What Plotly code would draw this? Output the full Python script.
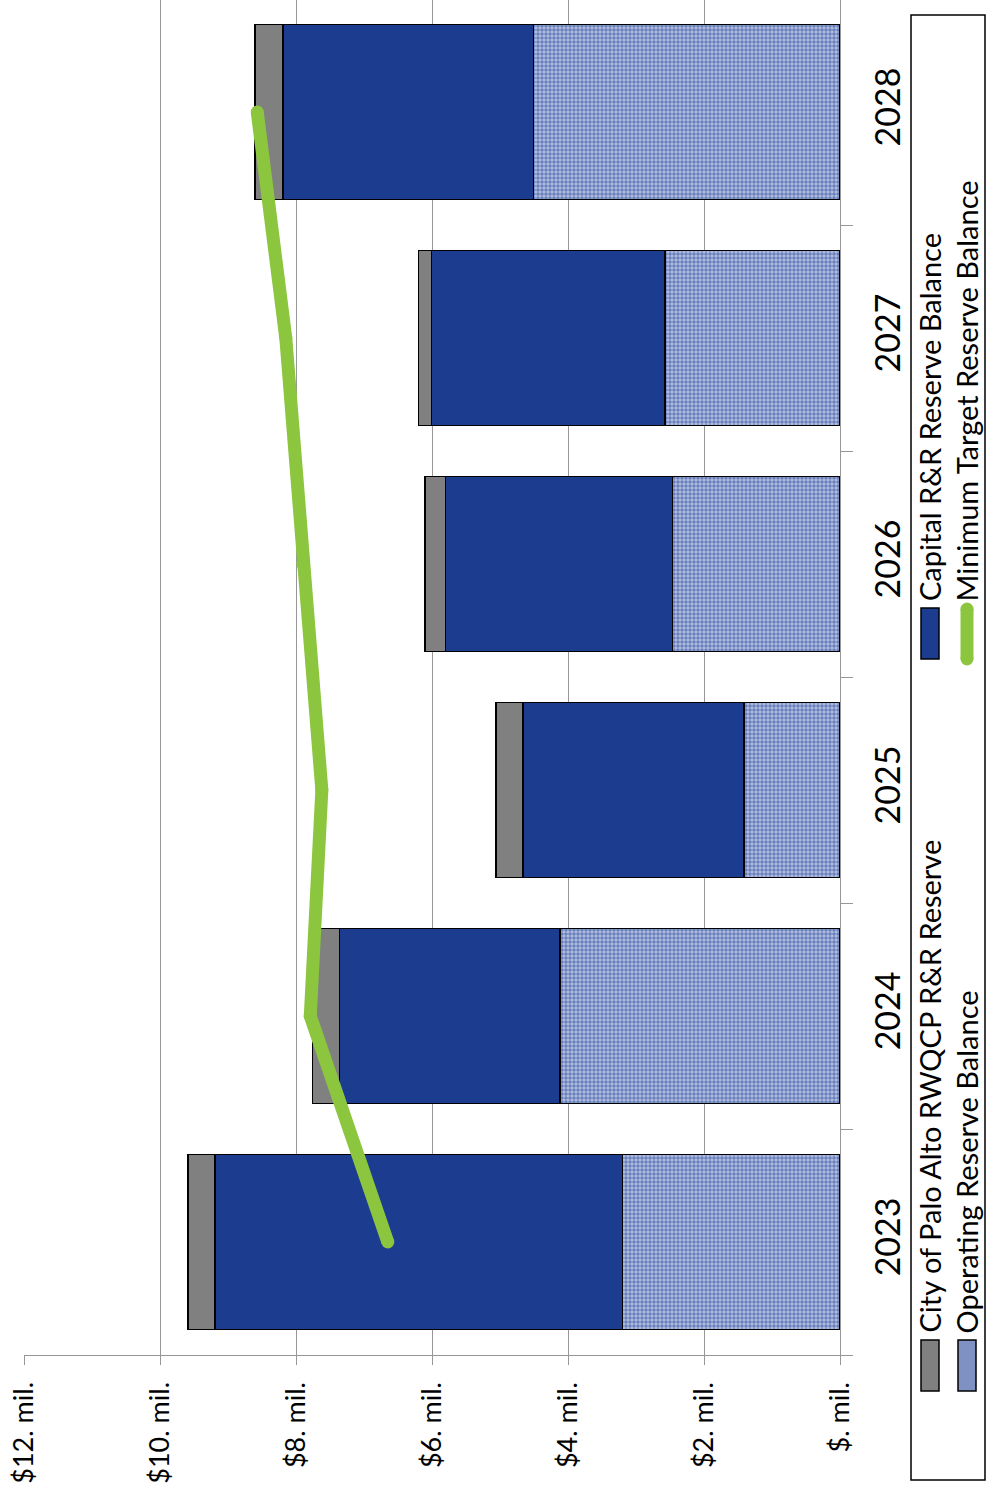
import plotly.graph_objects as go

# Reserve balances by fiscal year ($ millions)
years = ["2023", "2024", "2025", "2026", "2027", "2028"]
operating_reserve = [3.20, 4.12, 1.41, 2.46, 2.57, 4.51]
capital_rr_reserve = [5.99, 3.24, 3.25, 3.34, 3.44, 3.68]
city_rwqcp_reserve = [0.40, 0.40, 0.40, 0.30, 0.19, 0.41]
minimum_target = [6.65, 7.79, 7.62, 7.90, 8.15, 8.57]

value_ticks = [0, 2, 4, 6, 8, 10, 12]
value_tick_labels = ["$. mil.", "$2. mil.", "$4. mil.", "$6. mil.", "$8. mil.", "$10. mil.", "$12. mil."]

BLUE = "#1c3d8f"
GRAY = "#808080"
GREEN = "#8cc63f"
AXIS_GRAY = "#979797"
FONT = "Lato"

W, H = 989, 1501
ML, MR, MT, MB = 24, 149, 0, 146
PW, PH = W - ML - MR, H - MT - MB

# Fine blue dot screen over a pale blue ground, read as a checkerboard fill
CHECKER = dict(shape=".", size=4, solidity=0.6, fgcolor=BLUE, bgcolor="#b4c0e2")


def px(x):
    return (x - ML) / PW


def py(y):
    return 1 - (y - MT) / PH


fig = go.Figure()

fig.add_bar(
    y=years, x=operating_reserve, orientation="h", name="Operating Reserve Balance",
    marker=dict(color="#b4c0e2", line=dict(color="black", width=1.5), pattern=CHECKER),
)
fig.add_bar(
    y=years, x=capital_rr_reserve, orientation="h", name="Capital R&R Reserve Balance",
    marker=dict(color=BLUE, line=dict(color="black", width=1.5)),
)
fig.add_bar(
    y=years, x=city_rwqcp_reserve, orientation="h", name="City of Palo Alto RWQCP R&R Reserve",
    marker=dict(color=GRAY, line=dict(color="black", width=1.5)),
)
fig.add_scatter(
    y=years, x=minimum_target, mode="lines+markers", name="Minimum Target Reserve Balance",
    line=dict(color=GREEN, width=13),
    marker=dict(color=GREEN, size=13, line=dict(width=0)),
)

fig.update_layout(
    width=W, height=H,
    margin=dict(l=ML, r=MR, t=MT, b=MB),
    barmode="stack",
    bargap=0.225,
    showlegend=False,
    plot_bgcolor="white",
    paper_bgcolor="white",
    font=dict(family=FONT, color="black"),
)

fig.update_xaxes(
    range=[12, 0],
    tickvals=value_ticks, ticktext=value_tick_labels,
    tickangle=-90, tickfont=dict(size=27, family=FONT),
    ticklabelstandoff=6,
    showgrid=True, gridcolor=AXIS_GRAY, gridwidth=1.4,
    showline=True, linecolor=AXIS_GRAY, linewidth=1.4,
    ticks="outside", ticklen=9, tickcolor=AXIS_GRAY, tickwidth=1.4,
    zeroline=False,
)
fig.update_yaxes(
    side="right",
    range=[-0.5, 5.496],
    tickangle=-90, tickfont=dict(size=34, family=FONT),
    ticklabelstandoff=18,
    showline=True, linecolor=AXIS_GRAY, linewidth=1.4,
    ticks="outside", tickson="boundaries", ticklen=12, tickcolor=AXIS_GRAY, tickwidth=1.4,
    showgrid=False,
)

# Legend drawn in rotated form to the right of the plot
shapes = [
    dict(type="rect", xref="paper", yref="paper",
         x0=px(911), x1=px(985), y0=py(15), y1=py(1480),
         line=dict(color="black", width=1.5), fillcolor="white", layer="below"),
    dict(type="rect", xref="paper", yref="paper",
         x0=px(921), x1=px(939), y0=py(1340), y1=py(1391),
         line=dict(color="black", width=1.5), fillcolor=GRAY),
    dict(type="rect", xref="paper", yref="paper",
         x0=px(958), x1=px(976), y0=py(1340), y1=py(1391),
         line=dict(color="black", width=1.5), fillcolor="#7f91c2"),
    dict(type="rect", xref="paper", yref="paper",
         x0=px(921), x1=px(939), y0=py(608), y1=py(659),
         line=dict(color="black", width=1.5), fillcolor=BLUE),
    dict(type="line", xref="paper", yref="paper",
         x0=px(967), x1=px(967), y0=py(609), y1=py(659),
         line=dict(color=GREEN, width=13)),
]
for cy in (609, 659):
    shapes.append(dict(type="circle", xref="paper", yref="paper",
                       xsizemode="pixel", ysizemode="pixel",
                       xanchor=px(967), yanchor=py(cy),
                       x0=-6.5, x1=6.5, y0=-6.5, y1=6.5,
                       line=dict(width=0), fillcolor=GREEN))
fig.update_layout(shapes=shapes)

legend_text = [
    ("City of Palo Alto RWQCP R&R Reserve", 929, 1335),
    ("Operating Reserve Balance", 966, 1335),
    ("Capital R&R Reserve Balance", 929, 603),
    ("Minimum Target Reserve Balance", 966, 603),
]
for text, x, y in legend_text:
    fig.add_annotation(
        text=text, xref="paper", yref="paper", x=px(x), y=py(y),
        xanchor="center", yanchor="bottom", textangle=-90, showarrow=False,
        font=dict(size=29, family=FONT, color="black"),
    )

fig.write_html("out.html")
